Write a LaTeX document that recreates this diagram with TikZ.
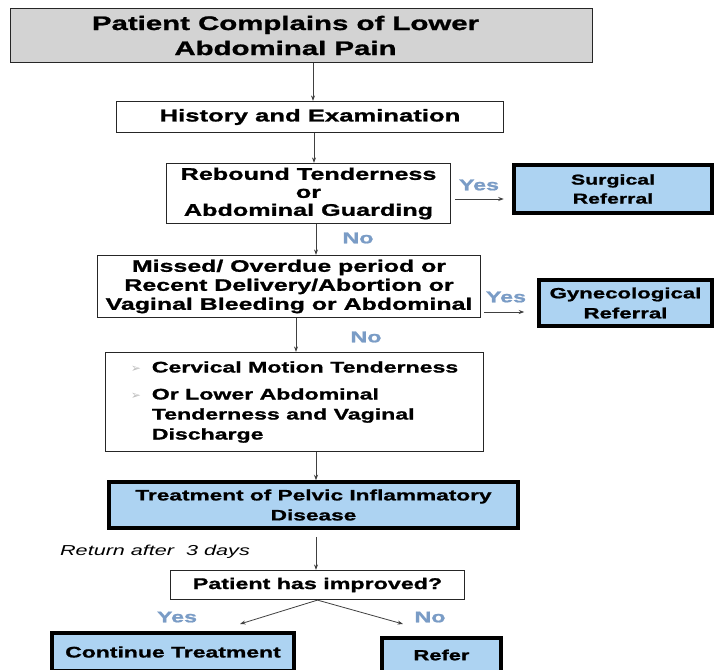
\documentclass[tikz,border=0pt]{standalone}
\usepackage{fontspec}
\setmainfont{Liberation Sans}[FakeStretch=1.5, BoldFeatures={FakeBold=1.2}]
\newfontfamily\bulletfont{DejaVu Sans}
\usetikzlibrary{arrows.meta,calc}
\definecolor{boxblue}{HTML}{ADD3F2}
\definecolor{boxgray}{HTML}{D3D3D3}
\definecolor{lblblue}{HTML}{7A9CC6}
\definecolor{bulletgray}{HTML}{BDBDBD}
\newcommand{\fs}[2]{\fontsize{#1}{#2}\selectfont}
\begin{document}
\begin{tikzpicture}[x=1pt,y=-1pt,
  plainbox/.style={draw=black!85, line width=1.2pt, fill=white, inner sep=0pt, align=center},
  refbox/.style={draw=black, line width=3.5pt, fill=boxblue, inner sep=0pt, align=center},
  arr/.style={-{Stealth[length=5.5pt,width=4pt]}, line width=0.8pt, draw=black!75},
  lbl/.style={font=\bfseries\fs{15.5}{15.5}, text=lblblue, inner sep=0pt}]
\clip (0,0) rectangle (714,669);
\fill[white] (0,0) rectangle (714,669);

% boxes
\node[plainbox, fill=boxgray, minimum width=582pt, minimum height=54pt,
      font=\bfseries\fs{19.6}{25}] (top) at (301.5,35.5)
      {Patient Complains of Lower\kern32pt\\Abdominal Pain\kern32pt};
\node[plainbox, minimum width=387pt, minimum height=31pt,
      font=\bfseries\fs{17.1}{18}] (hist) at (310,117) {History and Examination};
\node[plainbox, minimum width=284pt, minimum height=60pt,
      font=\bfseries\fs{16.8}{18}] (reb) at (308.5,193.5)
      {Rebound Tenderness\\or\\Abdominal Guarding};
\node[refbox, minimum width=198pt, minimum height=48pt,
      font=\bfseries\fs{14.2}{19}] (surg) at (613,189) {Surgical\\Referral};
\node[plainbox, minimum width=383pt, minimum height=62pt,
      font=\bfseries\fs{16.6}{19}] (miss) at (289,286.5)
      {Missed/ Overdue period or\\Recent Delivery/Abortion or\\Vaginal Bleeding or Abdominal};
\node[refbox, minimum width=173pt, minimum height=46pt,
      font=\bfseries\fs{14.8}{20}] (gyn) at (625.5,303) {Gynecological\\Referral};
\node[plainbox, minimum width=378pt, minimum height=99pt,
      font=\bfseries\fs{15.4}{20}] (cerv) at (294.5,402)
      {\begin{tabular}{@{}l@{\hspace{11pt}}l@{}}
        {\bulletfont\mdseries\color{bulletgray}\fs{12}{20}➢} & Cervical Motion Tenderness\\[7pt]
        {\bulletfont\mdseries\color{bulletgray}\fs{12}{20}➢} & Or Lower Abdominal\\
        & Tenderness and Vaginal\\
        & Discharge
       \end{tabular}};
\node[refbox, minimum width=409pt, minimum height=46pt,
      font=\bfseries\fs{15.1}{20}] (treat) at (313.5,505)
      {Treatment of Pelvic Inflammatory\\Disease};
\node[plainbox, minimum width=294pt, minimum height=29pt,
      font=\bfseries\fs{15.5}{18}] (impr) at (317.5,585) {Patient has improved?};
\node[refbox, minimum width=242pt, minimum height=38pt,
      font=\bfseries\fs{15.3}{18}] (cont) at (173,652) {Continue Treatment};
\node[refbox, minimum width=119pt, minimum height=34pt,
      font=\bfseries\fs{14.6}{18}] (refer) at (441.5,655) {Refer};

% labels
\node[lbl] (yes1) at (479,185) {Yes};
\node[lbl] (no1) at (358,238) {No};
\node[lbl] (yes2) at (506,297) {Yes};
\node[lbl] (no2) at (366,337) {No};
\node[lbl] (yes3) at (177,617) {Yes};
\node[lbl] (no3) at (430,617) {No};
\node[inner sep=0pt, font=\itshape\fs{14.4}{16}] (ret) at (155,552) {Return after\ \ 3 days};

% connectors
\draw[arr] ([xshift=11.5pt]top.south) -- ([xshift=3pt]hist.north);
\draw[arr] ([xshift=4pt]hist.south) -- ([xshift=5.5pt]reb.north);
\draw[arr] ([xshift=7.5pt]reb.south) -- ([xshift=27pt]miss.north);
\draw[arr] ([xshift=7pt]miss.south) -- ([xshift=1.5pt]cerv.north);
\draw[arr] ([xshift=21.5pt]cerv.south) -- ([xshift=2.5pt]treat.north);
\draw[arr, shorten <=7pt] ([xshift=2.5pt]treat.south) -- ([xshift=-1.5pt]impr.north);

\coordinate (ys) at ([yshift=-5.5pt]reb.east);
\draw[arr, shorten <=4pt, shorten >=8.5pt] (ys) -- (surg.west |- ys);
\coordinate (gs) at ([yshift=-25.5pt]miss.east);
\draw[arr, shorten <=3pt, shorten >=13pt] (gs) -- (gyn.west |- gs);

\coordinate (yesEnd) at (240,624);
\coordinate (noEnd) at (403,624);
\draw[arr] (impr.south) -- (yesEnd);
\draw[arr] (impr.south) -- (noEnd);
\end{tikzpicture}
\end{document}
